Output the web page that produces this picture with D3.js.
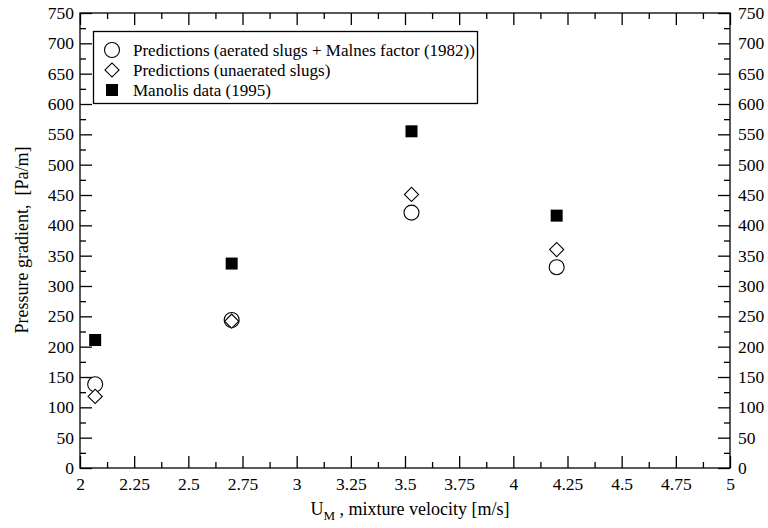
<!DOCTYPE html>
<html>
<head>
<meta charset="utf-8">
<script src="https://cdn.jsdelivr.net/npm/d3@7"></script>
<style>
  body { margin: 0; background: #fff; }
</style>
</head>
<body>
<div id="chart"></div>
<script>
// mixture velocity [m/s]
var velocity = [2.07, 2.70, 3.53, 4.20];
// pressure gradient [Pa/m]
var aerated = [138, 244, 421, 331];
var unaerated = [118, 242, 451, 360];
var manolis = [211, 337, 555, 416];

var xTicks = [2, 2.25, 2.5, 2.75, 3, 3.25, 3.5, 3.75, 4, 4.25, 4.5, 4.75, 5];
var yTicks = [0, 50, 100, 150, 200, 250, 300, 350, 400, 450, 500, 550, 600, 650, 700, 750];
var legendLabels = [
  "Predictions (aerated slugs + Malnes factor (1982))",
  "Predictions (unaerated slugs)",
  "Manolis data (1995)"
];

var FONT = "'Times New Roman', Times, 'Liberation Serif', serif";

var W = 768, H = 528;
var margin = {top: 13, right: 38, bottom: 60, left: 80};
var width = W - margin.left - margin.right,
    height = H - margin.top - margin.bottom;

var svg = d3.select("#chart").append("svg")
  .attr("width", W).attr("height", H)
  .style("font-family", FONT);
var g = svg.append("g")
  .attr("transform", "translate(" + margin.left + "," + margin.top + ")");

var x = d3.scaleLinear().domain([2, 5]).range([0, width]);
var y = d3.scaleLinear().domain([0, 750]).range([height, 0]);

var fmtX = function(d) { return d3.format("")(d); };

// minor ticks halfway between majors
var xMinor = d3.range(2.125, 5, 0.25);
var yMinor = d3.range(25, 750, 50);

function styleAxis(sel) {
  sel.attr("font-family", FONT);
  sel.select(".domain").remove();
  sel.selectAll("line").attr("stroke", "#000").attr("stroke-width", 1.3);
  sel.selectAll("text").style("font-size", "17.5px").style("font-family", FONT).attr("fill", "#000");
}

// bottom
g.append("g").attr("transform", "translate(0," + height + ")")
  .call(d3.axisBottom(x).tickValues(xTicks).tickSize(-12).tickPadding(10).tickFormat(fmtX))
  .call(styleAxis);
g.append("g").attr("transform", "translate(0," + height + ")")
  .call(d3.axisBottom(x).tickValues(xMinor).tickSize(-6).tickFormat(""))
  .call(styleAxis);
// top
g.append("g")
  .call(d3.axisTop(x).tickValues(xTicks).tickSize(-12).tickFormat(""))
  .call(styleAxis);
g.append("g")
  .call(d3.axisTop(x).tickValues(xMinor).tickSize(-6).tickFormat(""))
  .call(styleAxis);
// left
g.append("g")
  .call(d3.axisLeft(y).tickValues(yTicks).tickSize(-12).tickPadding(6))
  .call(styleAxis);
g.append("g")
  .call(d3.axisLeft(y).tickValues(yMinor).tickSize(-6).tickFormat(""))
  .call(styleAxis);
// right
g.append("g").attr("transform", "translate(" + width + ",0)")
  .call(d3.axisRight(y).tickValues(yTicks).tickSize(-12).tickPadding(8))
  .call(styleAxis);
g.append("g").attr("transform", "translate(" + width + ",0)")
  .call(d3.axisRight(y).tickValues(yMinor).tickSize(-6).tickFormat(""))
  .call(styleAxis);

// frame
g.append("rect")
  .attr("width", width).attr("height", height)
  .attr("fill", "none").attr("stroke", "#000").attr("stroke-width", 1.3);

// markers
var sym = {
  circle: d3.symbol().type(d3.symbolCircle).size(Math.PI * 7.5 * 7.5),
  diamond: d3.symbol().type(d3.symbolSquare).size(100),
  square: d3.symbol().type(d3.symbolSquare).size(144)
};

function drawSeries(vals, kind) {
  g.append("g").selectAll("path")
    .data(vals)
    .enter().append("path")
    .attr("d", sym[kind])
    .attr("transform", function(d, i) {
      return "translate(" + x(velocity[i]) + "," + y(d) + ")" + (kind === "diamond" ? " rotate(45)" : "");
    })
    .attr("fill", kind === "square" ? "#000" : "#fff")
    .attr("stroke", "#000")
    .attr("stroke-width", kind === "square" ? 0 : 1.1);
}
drawSeries(aerated, "circle");
drawSeries(unaerated, "diamond");
drawSeries(manolis, "square");

// legend
var legend = svg.append("g");
legend.append("rect")
  .attr("x", 93.5).attr("y", 31.5).attr("width", 384).attr("height", 72)
  .attr("fill", "#fff").attr("stroke", "#000").attr("stroke-width", 1.3);
var kinds = ["circle", "diamond", "square"];
kinds.forEach(function(k, i) {
  var cy = 50 + i * 20;
  legend.append("path")
    .attr("d", sym[k])
    .attr("transform", "translate(112," + cy + ")" + (k === "diamond" ? " rotate(45)" : ""))
    .attr("fill", k === "square" ? "#000" : "#fff")
    .attr("stroke", "#000")
    .attr("stroke-width", k === "square" ? 0 : 1.1);
  legend.append("text")
    .attr("x", 133).attr("y", cy + 6)
    .style("font-size", "17px")
    .text(legendLabels[i]);
});

// axis titles
var xt = svg.append("text")
  .attr("x", 410).attr("y", 515)
  .attr("text-anchor", "middle")
  .style("font-size", "18px")
  .style("white-space", "pre");
xt.append("tspan").text("U");
xt.append("tspan").attr("dy", 5).style("font-size", "13px").text("M");
xt.append("tspan").attr("dy", -5).text(" , mixture velocity [m/s]");

svg.append("text")
  .attr("transform", "translate(28,240) rotate(-90)")
  .attr("text-anchor", "middle")
  .style("font-size", "18px")
  .style("white-space", "pre")
  .text("Pressure gradient,  [Pa/m]");
</script>
</body>
</html>
